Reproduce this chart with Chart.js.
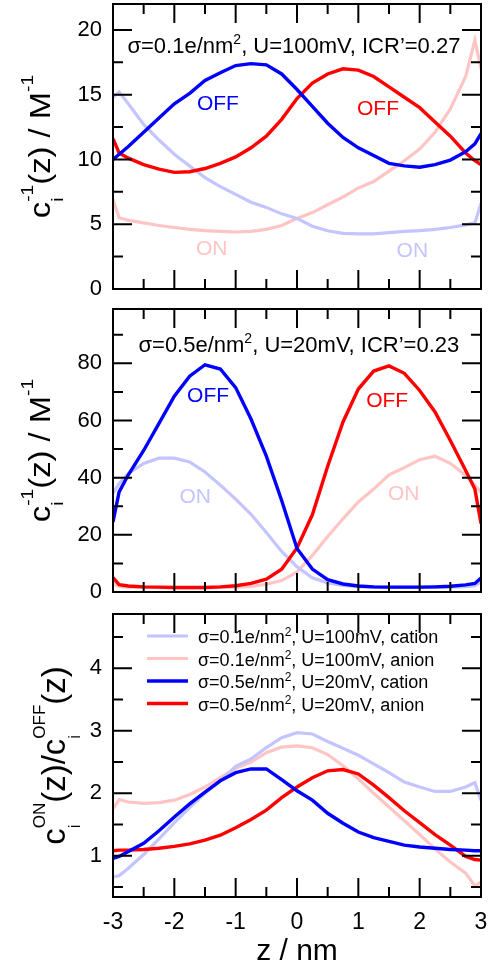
<!DOCTYPE html>
<html>
<head>
<meta charset="utf-8">
<script src="https://cdn.jsdelivr.net/npm/chart.js@4.4.1/dist/chart.umd.min.js"></script>
<style>
    html, body { margin: 0; padding: 0; background: #fff; }
    #wrap { position: relative; width: 499px; height: 967px; }
    canvas { position: absolute; left: 0; }
</style>
</head>
<body>
<div id="wrap">
    <canvas id="panelTop" width="499" height="300" style="top:0px"></canvas>
    <canvas id="panelMid" width="499" height="305" style="top:300px"></canvas>
    <canvas id="panelBot" width="499" height="362" style="top:605px"></canvas>
</div>
<script>
// positions along the pore, nm
const zValues = [-3, -2.9, -2.75, -2.5, -2.25, -2, -1.75, -1.5, -1.25, -1, -0.75, -0.5, -0.25, 0,
    0.25, 0.5, 0.75, 1, 1.25, 1.5, 1.75, 2, 2.25, 2.5, 2.75, 2.9, 3];

// sigma = 0.1 e/nm2, U = 100 mV : inverse concentrations
const inv01CationOn  = [14.8, 15.2, 14.3, 12.7, 11.5, 10.4, 9.5, 8.6, 7.9, 7.3, 6.7, 6.3, 5.8, 5.45,
    4.85, 4.5, 4.3, 4.25, 4.25, 4.35, 4.45, 4.5, 4.6, 4.75, 4.95, 5.1, 6.6];
const inv01AnionOn   = [6.9, 5.5, 5.3, 5.1, 4.9, 4.75, 4.6, 4.5, 4.45, 4.4, 4.45, 4.6, 4.9, 5.45,
    5.9, 6.5, 7.1, 7.8, 8.3, 9.1, 9.9, 10.8, 12.1, 13.9, 16.4, 19.2, 17.0];
const inv01CationOff = [10.0, 10.4, 11.0, 12.1, 13.2, 14.3, 15.1, 16.1, 16.7, 17.25, 17.4, 17.3, 16.6, 15.4,
    14.1, 12.8, 11.7, 10.9, 10.3, 9.7, 9.5, 9.4, 9.6, 9.95, 10.6, 11.2, 12.0];
const inv01AnionOff  = [11.6, 10.5, 10.1, 9.6, 9.25, 9.0, 9.05, 9.3, 9.7, 10.2, 10.9, 11.8, 13.1, 14.7,
    15.9, 16.6, 17.0, 16.9, 16.4, 15.6, 14.8, 14.0, 12.9, 11.8, 10.5, 9.9, 9.6];

// sigma = 0.5 e/nm2, U = 20 mV : inverse concentrations
const inv05CationOn  = [34.5, 38.0, 41.5, 45.0, 46.8, 46.8, 45.5, 42.0, 37.4, 32.5, 27.2, 20.8, 14.2, 8.8,
    5.0, 3.2, 2.3, 1.9, 1.7, 1.6, 1.6, 1.6, 1.6, 1.7, 1.9, 2.2, 3.5];
const inv05AnionOn   = [3.0, 2.0, 1.7, 1.6, 1.5, 1.5, 1.5, 1.5, 1.6, 1.7, 2.0, 2.7, 4.0, 7.0,
    12.8, 19.4, 25.6, 31.5, 36.0, 41.0, 43.5, 46.3, 47.5, 45.0, 40.8, 37.3, 35.0];
const inv05CationOff = [24.5, 35.0, 41.0, 49.5, 59.0, 68.5, 75.5, 79.5, 78.0, 71.5, 60.5, 47.5, 32.0, 15.2,
    8.0, 4.3, 2.8, 2.1, 1.8, 1.7, 1.7, 1.7, 1.8, 2.0, 2.5, 3.0, 4.9];
const inv05AnionOff  = [5.0, 2.6, 2.1, 1.8, 1.7, 1.6, 1.6, 1.6, 1.8, 2.2, 3.0, 4.5, 8.0, 15.4,
    27.0, 44.0, 59.5, 71.0, 77.3, 79.1, 76.5, 70.5, 63.0, 53.0, 42.5, 36.0, 24.0];

// ON / OFF ratios
const ratio01Cation = [0.66, 0.68, 0.80, 1.02, 1.27, 1.53, 1.77, 2.0, 2.2, 2.43, 2.55, 2.73, 2.89, 2.97,
    2.95, 2.83, 2.72, 2.61, 2.47, 2.33, 2.18, 2.1, 2.03, 2.03, 2.1, 2.17, 1.89];
const ratio01Anion  = [1.75, 1.90, 1.86, 1.84, 1.85, 1.89, 1.98, 2.1, 2.25, 2.40, 2.50, 2.65, 2.74, 2.76,
    2.73, 2.62, 2.44, 2.23, 2.0, 1.78, 1.56, 1.34, 1.11, 0.9, 0.72, 0.52, 0.58];
const ratio05Cation = [0.96, 0.99, 1.07, 1.2, 1.4, 1.62, 1.83, 2.02, 2.2, 2.33, 2.39, 2.39, 2.22, 2.04,
    1.89, 1.68, 1.52, 1.38, 1.29, 1.23, 1.17, 1.14, 1.12, 1.10, 1.09, 1.08, 1.08];
const ratio05Anion  = [1.08, 1.09, 1.09, 1.10, 1.12, 1.15, 1.19, 1.25, 1.33, 1.45, 1.58, 1.73, 1.93, 2.1,
    2.25, 2.36, 2.38, 2.31, 2.13, 1.93, 1.72, 1.53, 1.34, 1.17, 0.99, 0.94, 0.93];

const zTicks = [-3, -2, -1, 0, 1, 2, 3];
const invTicks01 = [0, 5, 10, 15, 20];
const invTicks05 = [0, 20, 40, 60, 80];
const ratioTicks = [1, 2, 3, 4];

const legendLabels = [
    'σ=0.1e/nm^2, U=100mV, cation',
    'σ=0.1e/nm^2, U=100mV, anion',
    'σ=0.5e/nm^2, U=20mV, cation',
    'σ=0.5e/nm^2, U=20mV, anion'
];

const FONT = '"Liberation Sans", Arial, Helvetica, sans-serif';
const LAVENDER = 'rgb(196, 196, 255)';
const PINK = 'rgb(255, 196, 196)';
const BLUE = '#0000ff';
const RED = '#ff0000';

function line(label, values, color, dark) {
    return {
        label: label,
        data: values.map((v, i) => ({ x: zValues[i], y: v })),
        borderColor: color,
        borderWidth: dark ? 3.4 : 3.2,
        pointRadius: 0,
        tension: 0,
        fill: false,
        order: dark ? 0 : 1
    };
}

// text with _{sub} and ^{sup} parts, sub+sup stacked
function parseRich(str) {
    const parts = [];
    const re = /([_^])\{([^}]*)\}|([_^])(.)|([^_^]+)/g;
    let m;
    while ((m = re.exec(str))) {
        if (m[1]) parts.push({ kind: m[1], text: m[2] });
        else if (m[3]) parts.push({ kind: m[3], text: m[4] });
        else parts.push({ kind: '', text: m[5] });
    }
    return parts;
}

function drawRich(ctx, str, x, y, f) {
    const big = f.size + 'px ' + FONT;
    const small = f.small + 'px ' + FONT;
    const parts = parseRich(str);
    const pieces = [];
    let pen = 0;
    for (let i = 0; i < parts.length; i++) {
        const p = parts[i];
        if (!p.kind) {
            ctx.font = big;
            pieces.push({ t: p.text, f: big, dx: pen, dy: 0 });
            pen += ctx.measureText(p.text).width;
            continue;
        }
        ctx.font = small;
        let w = ctx.measureText(p.text).width;
        pieces.push({ t: p.text, f: small, dx: pen, dy: p.kind === '^' ? -f.rise : f.drop });
        const q = parts[i + 1];
        if (q && q.kind && q.kind !== p.kind) {
            pieces.push({ t: q.text, f: small, dx: pen, dy: q.kind === '^' ? -f.rise : f.drop });
            w = Math.max(w, ctx.measureText(q.text).width);
            i++;
        }
        pen += w;
    }
    const start = f.align === 'center' ? -pen / 2 : 0;
    ctx.textAlign = 'left';
    ctx.textBaseline = 'alphabetic';
    pieces.forEach(pc => {
        ctx.font = pc.f;
        ctx.fillText(pc.t, x + start + pc.dx, y + pc.dy);
    });
}

function forTicks(min, max, minor, major, cb) {
    for (let i = Math.ceil(min / minor - 1e-9); i * minor <= max + 1e-9; i++) {
        const v = i * minor;
        cb(v, Math.abs(v / major - Math.round(v / major)) < 1e-6);
    }
}

// box, inward ticks on all sides, titles and labels
function framePlugin(p) {
    return {
        id: 'frame',
        afterDraw(chart) {
            const { ctx, chartArea: a, scales: { x, y } } = chart;
            ctx.save();
            ctx.strokeStyle = '#000';
            ctx.lineWidth = 2;
            ctx.beginPath();
            forTicks(-3, 3, 0.5, 1, (v, major) => {
                const px = x.getPixelForValue(v), len = major ? 19 : 10;
                ctx.moveTo(px, a.bottom); ctx.lineTo(px, a.bottom - len);
                ctx.moveTo(px, a.top); ctx.lineTo(px, a.top + len);
            });
            forTicks(p.yMin, p.yMax, p.yMinor, p.yMajor, (v, major) => {
                const py = y.getPixelForValue(v), len = major ? 19 : 10;
                ctx.moveTo(a.left, py); ctx.lineTo(a.left + len, py);
                ctx.moveTo(a.right, py); ctx.lineTo(a.right - len, py);
            });
            ctx.stroke();
            ctx.strokeRect(a.left, a.top, a.right - a.left, a.bottom - a.top);

            ctx.fillStyle = '#000';
            ctx.save();
            ctx.translate(a.left - p.titleGap, (a.top + a.bottom) / 2);
            ctx.rotate(-Math.PI / 2);
            ctx.scale(p.titleFont.stretch || 1, 1);
            drawRich(ctx, p.yTitle, 0, 0, p.titleFont);
            ctx.restore();

            (p.notes || []).forEach(n => {
                ctx.fillStyle = n.color || '#000';
                drawRich(ctx, n.text, x.getPixelForValue(n.z), y.getPixelForValue(n.v),
                    { size: n.size || 21, small: 14, rise: 9, drop: 5, align: 'center' });
            });

            if (p.legend) {
                chart.data.datasets.forEach((ds, i) => {
                    const ly = a.top + 22 + i * 22.5;
                    ctx.strokeStyle = ds.borderColor;
                    ctx.lineWidth = ds.borderWidth;
                    ctx.beginPath();
                    ctx.moveTo(a.left + 34, ly);
                    ctx.lineTo(a.left + 75, ly);
                    ctx.stroke();
                    ctx.fillStyle = '#000';
                    drawRich(ctx, legendLabels[i], a.left + 85, ly + 7,
                        { size: 18, small: 12, rise: 7, drop: 4, align: 'left' });
                });
            }

            if (p.xTitle) {
                ctx.fillStyle = '#000';
                drawRich(ctx, p.xTitle, (a.left + a.right) / 2, a.bottom + 63,
                    { size: 30, small: 18, rise: 10, drop: 6, align: 'center' });
            }
            ctx.restore();
        }
    };
}

function makePanel(id, p, datasets) {
    new Chart(document.getElementById(id).getContext('2d'), {
        type: 'line',
        data: { datasets: datasets },
        options: {
            responsive: false,
            animation: false,
            events: [],
            layout: { padding: { top: p.top, right: 18, left: 0, bottom: 0 } },
            plugins: { legend: { display: false }, tooltip: { enabled: false } },
            scales: {
                x: {
                    type: 'linear',
                    min: -3,
                    max: 3,
                    grid: { display: false, drawTicks: false },
                    border: { display: false },
                    ticks: {
                        display: !!p.xTitle,
                        color: '#000',
                        font: { family: FONT, size: 23 },
                        padding: 12,
                        maxRotation: 0,
                        autoSkip: false
                    },
                    afterBuildTicks: s => { s.ticks = zTicks.map(value => ({ value })); },
                    afterFit: s => {
                        s.height = p.xHeight;
                        s.paddingLeft = 0;
                        s.paddingRight = 0;
                    }
                },
                y: {
                    type: 'linear',
                    min: p.yMin,
                    max: p.yMax,
                    grid: { display: false, drawTicks: false },
                    border: { display: false },
                    ticks: {
                        color: '#000',
                        font: { family: FONT, size: 22 },
                        padding: 11,
                        autoSkip: false
                    },
                    afterBuildTicks: s => { s.ticks = p.yTicks.map(value => ({ value })); },
                    afterFit: s => {
                        s.width = 113;
                        s.paddingTop = 0;
                        s.paddingBottom = 0;
                    }
                }
            }
        },
        plugins: [framePlugin(p)]
    });
}

const invFont = { size: 29, small: 17, rise: 17, drop: 13, align: 'center', stretch: 1.13 };

makePanel('panelTop', {
    top: 4, xHeight: 11,
    yMin: 0, yMax: 22, yMajor: 5, yMinor: 2.5, yTicks: invTicks01,
    yTitle: 'c_i^{-1}(z) / M^{-1}', titleGap: 63, titleFont: invFont,
    notes: [
        { text: 'σ=0.1e/nm^2, U=100mV, ICR’=0.27', z: -0.05, v: 18.25, size: 22 },
        { text: 'OFF', z: -1.29, v: 13.8, color: BLUE },
        { text: 'OFF', z: 1.32, v: 13.4, color: RED },
        { text: 'ON', z: -1.39, v: 2.6, color: PINK },
        { text: 'ON', z: 1.88, v: 2.47, color: LAVENDER }
    ]
}, [
    line('cation ON', inv01CationOn, LAVENDER, false),
    line('anion ON', inv01AnionOn, PINK, false),
    line('cation OFF', inv01CationOff, BLUE, true),
    line('anion OFF', inv01AnionOff, RED, true)
]);

makePanel('panelMid', {
    top: 9, xHeight: 13,
    yMin: 0, yMax: 99, yMajor: 20, yMinor: 10, yTicks: invTicks05,
    yTitle: 'c_i^{-1}(z) / M^{-1}', titleGap: 63, titleFont: invFont,
    notes: [
        { text: 'σ=0.5e/nm^2, U=20mV, ICR’=0.23', z: 0.03, v: 83.9, size: 22 },
        { text: 'OFF', z: -1.45, v: 66.4, color: BLUE },
        { text: 'OFF', z: 1.47, v: 64.7, color: RED },
        { text: 'ON', z: -1.66, v: 31.2, color: LAVENDER },
        { text: 'ON', z: 1.74, v: 32.2, color: PINK }
    ]
}, [
    line('cation ON', inv05CationOn, LAVENDER, false),
    line('anion ON', inv05AnionOn, PINK, false),
    line('cation OFF', inv05CationOff, BLUE, true),
    line('anion OFF', inv05AnionOff, RED, true)
]);

makePanel('panelBot', {
    top: 9, xHeight: 70,
    yMin: 0.34, yMax: 4.87, yMajor: 1, yMinor: 0.5, yTicks: ratioTicks,
    yTitle: 'c_i^{ON}(z)/c_i^{OFF}(z)', titleGap: 48,
    titleFont: { size: 33, small: 17, rise: 20, drop: 15, align: 'center' },
    legend: true,
    xTitle: 'z / nm'
}, [
    line(legendLabels[0], ratio01Cation, LAVENDER, false),
    line(legendLabels[1], ratio01Anion, PINK, false),
    line(legendLabels[2], ratio05Cation, BLUE, true),
    line(legendLabels[3], ratio05Anion, RED, true)
]);
</script>
</body>
</html>
